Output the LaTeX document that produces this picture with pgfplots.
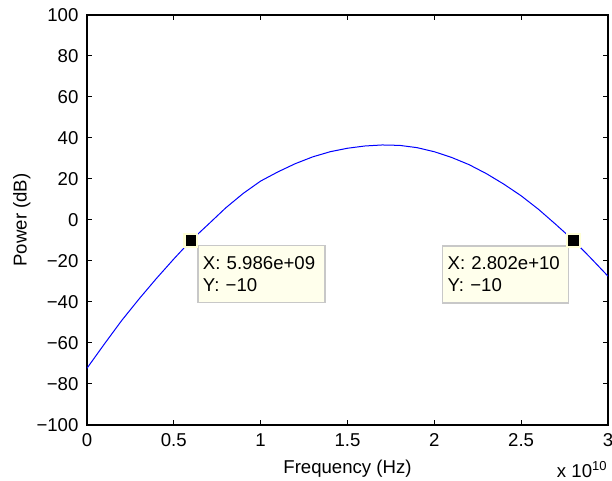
\documentclass[border=0pt]{standalone}
\usepackage{fontspec}
\setmainfont{Liberation Sans}
\usepackage{pgfplots}
\pgfplotsset{compat=1.18}
\definecolor{tipfill}{RGB}{255,255,236}
\definecolor{tipedge}{RGB}{200,200,200}
\definecolor{tiphalo}{RGB}{255,255,214}
\begin{document}
\fontsize{9.3pt}{11pt}\selectfont
\begin{tikzpicture}
\useasboundingbox (-43.5pt,-28pt) rectangle (262.5pt,212.5pt);
\begin{axis}[
  at={(0pt,0pt)}, anchor=south west,
  scale only axis, width=260.5pt, height=205pt,
  xmin=0, xmax=3, ymin=-100, ymax=100,
  xtick={0,0.5,1,1.5,2,2.5,3},
  xticklabels={0,0.5,1,1.5,2,2.5,3},
  ytick={-100,-80,-60,-40,-20,0,20,40,60,80,100},
  yticklabels={−100,−80,−60,−40,−20,0,20,40,60,80,100},
  tick align=inside, major tick length=2.5pt,
  tick style={black, line width=0.5pt},
  axis line style={black, line width=0.9pt},
  ticklabel style={font=\fontsize{9.3pt}{11pt}\selectfont},
  xticklabel style={yshift=-1pt},
  yticklabel style={xshift=-1pt},
  xlabel={Frequency (Hz)}, ylabel={Power (dB)},
  xlabel style={at={(axis description cs:0.5,0)}, anchor=north, yshift=-14pt},
  ylabel style={at={(axis description cs:0,0.5)}, anchor=south, xshift=0pt, yshift=25pt},
  clip=true,
]
\addplot[blue, line width=0.5pt, no marks] coordinates {
(0,-72.3) (0.1,-60.5) (0.2,-49) (0.3,-38.5) (0.4,-28.5) (0.5,-19) (0.5986,-10)
(0.7,-2) (0.8,6) (0.9,13) (1.0,19) (1.1,23.5) (1.2,27.5) (1.3,30.8) (1.4,33.3)
(1.5,35.0) (1.6,36.1) (1.7,36.6) (1.8,36.4) (1.9,35.3) (2.0,33.3) (2.1,30.5)
(2.2,27.0) (2.3,22.6) (2.4,17.5) (2.5,11.8) (2.6,5.2) (2.7,-2.2) (2.802,-10)
(2.9,-18.5) (3.0,-27.4)
};
\addplot[color=tiphalo, only marks, mark=square*, mark size=3.5pt, mark options={fill=tiphalo, draw=tiphalo, line width=0pt}] coordinates {(0.5986,-10) (2.802,-10)};
\addplot[color=black, only marks, mark=square*, mark size=2.35pt, mark options={fill=black, draw=black, line width=0pt}] coordinates {(0.5986,-10) (2.802,-10)};
\node[draw=tipedge, fill=tipfill, line width=0.6pt, anchor=north west, text width=58.5pt, inner xsep=2.5pt, minimum height=28.5pt, align=left, xshift=3.2pt, yshift=-2.2pt, font=\fontsize{9.3pt}{11pt}\selectfont] at (axis cs:0.5986,-10) {X: 5.986e+09\\Y: −10};
\node[draw=tipedge, fill=tipfill, line width=0.6pt, anchor=north east, text width=58pt, inner xsep=2.5pt, minimum height=28.5pt, align=left, xshift=-2.2pt, yshift=-2.5pt, font=\fontsize{9.3pt}{11pt}\selectfont] at (axis cs:2.802,-10) {X: 2.802e+10\\Y: −10};
\end{axis}
\node[anchor=base east, inner sep=0pt] at (260.5pt,-26.5pt) {x 10\textsuperscript{\fontsize{6.5pt}{7pt}\selectfont 10}};
\end{tikzpicture}
\end{document}
